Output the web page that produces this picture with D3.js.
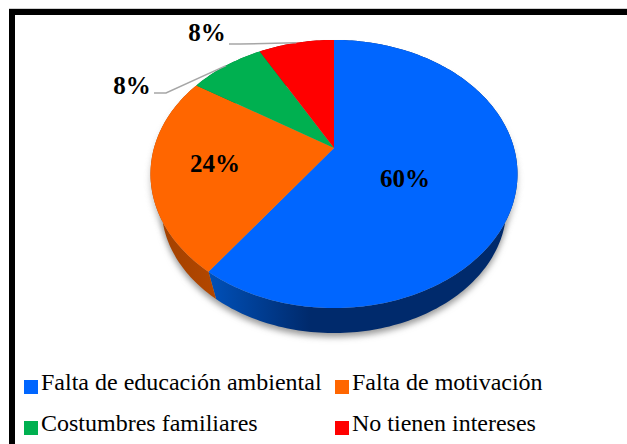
<!DOCTYPE html>
<html>
<head>
<meta charset="utf-8">
<script src="https://d3js.org/d3.v7.min.js"></script>
<style>
html, body { margin: 0; padding: 0; background: #fff; }
svg { display: block; }
text { font-family: "Liberation Serif", serif; fill: #000; }
.pct { font-weight: bold; font-size: 25px; }
.leg { font-size: 24px; }
</style>
</head>
<body>
<svg width="627" height="444"></svg>
<script>
var categories = ["Falta de educación ambiental", "Falta de motivación", "Costumbres familiares", "No tienen intereses"];
var values = [60, 24, 8, 8];
var pctLabels = ["60%", "24%", "8%", "8%"];
var colors = ["#0066ff", "#ff6600", "#00b050", "#ff0000"];
var wallLight = ["#0050b8", "#b34700", "#007a38", "#b30000"];
var wallDark = ["#002a6c", "#a04000", "#006030", "#900000"];

var svg = d3.select("svg");
var defs = svg.append("defs");

// perspective pie: apex sits above the centre of the ellipse
var cx = 334, apexY = 148, R = 180, S = 129, k = 0.194;
var depthScale = 0.94, lowApexY = 182.6;

function project(a, scale, y0) {
  var u = Math.sin(a), v = Math.cos(a), w = 1 + k * v;
  return [cx + scale * R * u / w, y0 - scale * S * v / w];
}
function rim(a0, a1, scale, y0) {
  var n = Math.max(2, Math.ceil((a1 - a0) / 0.02)), pts = [];
  for (var i = 0; i <= n; i++) pts.push(project(a0 + (a1 - a0) * i / n, scale, y0));
  return pts;
}
var line = d3.line();

var pie = d3.pie().sort(null).value(function (d) { return d; });
var arcs = pie(values);

// frame, only top and left sides show
svg.append("line").attr("x1", 9).attr("x2", 627).attr("y1", 8.5).attr("y2", 8.5).attr("stroke", "#d0d0d0").attr("stroke-width", 1);
svg.append("path").attr("d", "M12,444V12H627")
  .attr("fill", "none").attr("stroke", "#000").attr("stroke-width", 6);

// shadow under the pie
var blur = defs.append("filter").attr("id", "blur").attr("x", "-20%").attr("y", "-20%").attr("width", "140%").attr("height", "140%");
blur.append("feGaussianBlur").attr("stdDeviation", 3);
svg.append("path")
  .attr("d", line(rim(0, 2 * Math.PI, depthScale, lowApexY + 4)) + "Z")
  .attr("fill", "#9a9a9a")
  .attr("filter", "url(#blur)");
svg.append("path")
  .attr("d", line(rim(0, 2 * Math.PI, 1, apexY + 6)) + "Z")
  .attr("fill", "#9a9a9a")
  .attr("filter", "url(#blur)")
  .attr("opacity", 0.6);

// side walls
arcs.forEach(function (d, i) {
  var grad = defs.append("linearGradient").attr("id", "wall" + i)
    .attr("gradientUnits", "userSpaceOnUse")
    .attr("x1", i == 1 ? 150 : 210).attr("x2", i == 1 ? 216 : 310).attr("y1", 0).attr("y2", 0);
  grad.append("stop").attr("offset", 0).attr("stop-color", i == 1 ? wallDark[i] : wallLight[i]);
  grad.append("stop").attr("offset", 1).attr("stop-color", i == 1 ? wallLight[i] : wallDark[i]);
  var pts = rim(d.startAngle, d.endAngle, 1, apexY)
    .concat(rim(d.startAngle, d.endAngle, depthScale, lowApexY).reverse());
  svg.append("path").attr("d", line(pts) + "Z").attr("fill", "url(#wall" + i + ")");
});

// top faces
arcs.forEach(function (d, i) {
  var pts = [[cx, apexY]].concat(rim(d.startAngle, d.endAngle, 1, apexY));
  svg.append("path").attr("d", line(pts) + "Z").attr("fill", colors[i]);
});

// leader lines
function leader(i, x0, x1, y0) {
  var mid = (arcs[i].startAngle + arcs[i].endAngle) / 2;
  var p = project(mid, 1, apexY);
  svg.append("polyline")
    .attr("points", [[x0, y0], [x1, y0], p].join(" "))
    .attr("fill", "none").attr("stroke", "#a6a6a6").attr("stroke-width", 1.5);
}
leader(2, 154, 166, 93);
leader(3, 229, 240, 44);

// percentage labels
var labelPos = [[405, 187], [215, 172], [132, 94], [207, 41]];
pctLabels.forEach(function (t, i) {
  svg.append("text").attr("class", "pct").attr("text-anchor", "middle")
    .attr("x", labelPos[i][0]).attr("y", labelPos[i][1]).text(t);
});

// legend
var legendX = d3.scaleOrdinal().domain([0, 1]).range([24, 335]);
var legendY = d3.scaleOrdinal().domain([0, 1]).range([380, 421]);
categories.forEach(function (c, i) {
  var col = i % 2, row = Math.floor(i / 2);
  svg.append("rect").attr("x", legendX(col)).attr("y", legendY(row))
    .attr("width", 14).attr("height", 14).attr("fill", colors[i]);
  svg.append("text").attr("class", "leg")
    .attr("x", legendX(col) + 17).attr("y", legendY(row) + 10).text(c);
});
</script>
</body>
</html>
